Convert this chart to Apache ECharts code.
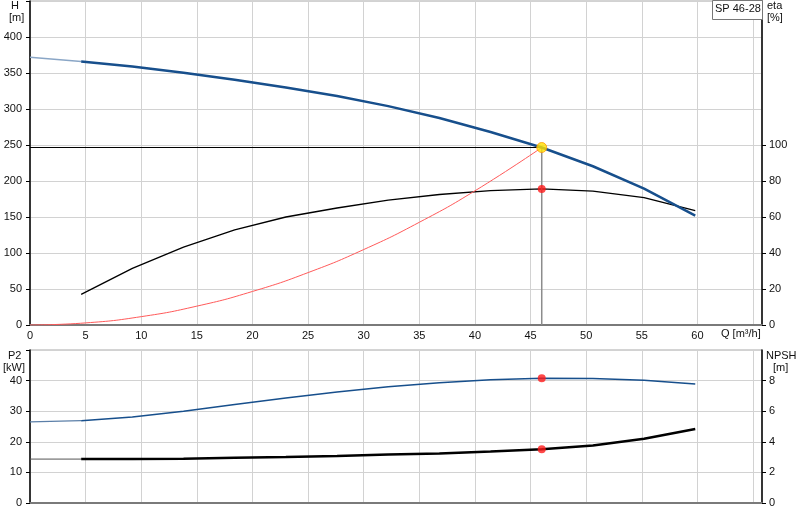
<!DOCTYPE html>
<html>
<head>
<meta charset="utf-8">
<script src="https://cdn.jsdelivr.net/npm/echarts@6.0.0/dist/echarts.min.js"></script>
<style>
  html, body { margin: 0; padding: 0; background: #fff; }
  #chart { width: 800px; height: 520px; }
</style>
</head>
<body>
<div id="chart"></div>
<script>
// flow points of the curves [m3/h]
let qPoints = [4.6, 9.2, 13.8, 18.4, 23.0, 27.6, 32.2, 36.8, 41.4, 46.0, 50.6, 55.2, 59.8];
// head [m]
let headStart = [[0, 372], [4.6, 366]];
let headVals = [366, 359, 350.5, 340.5, 330, 318, 304, 287.5, 268, 246.5, 220.5, 189.5, 152];
// efficiency [%]
let etaVals = [17.0, 31.5, 43.3, 52.8, 60.0, 65.0, 69.4, 72.5, 74.7, 75.6, 74.4, 70.8, 63.5];
// system curve
let sysQ = [0, 5, 10, 15, 20, 25, 30, 35, 40, 46];
let sysH = [0, 2.9, 11.6, 26.2, 46.6, 72.8, 104.8, 142.7, 186.4, 246.5];
// shaft power P2 [kW]
let p2Start = [[0, 26.5], [4.6, 26.9]];
let p2Vals = [26.9, 28.1, 30.0, 32.2, 34.3, 36.3, 38.0, 39.3, 40.3, 40.75, 40.7, 40.1, 38.9];
// NPSH [m]
let npshStart = [[0, 2.87], [4.6, 2.87]];
let npshVals = [2.87, 2.88, 2.89, 2.95, 3.01, 3.08, 3.17, 3.24, 3.36, 3.52, 3.76, 4.2, 4.83];
// duty point
let dutyQ = 46;
let dutyH = 246.5;
let dutyEta = 75.6;
let dutyP2 = 40.75;
let dutyNpsh = 3.52;

let pairs = function(xs, ys){
    return xs.map(function(x, i){ return [x, ys[i]]; });
};

let font = 'Liberation Sans, Arial, sans-serif';
let gridColor = '#d2d2d2';
let labelStyle = {color: '#111', fontSize: 11, fontFamily: font};

let chart = echarts.init(document.getElementById('chart'), null, {renderer: 'canvas'});

let xAxisBase = function(idx, showLabels){
    return {
        gridIndex: idx, type: 'value', min: 0, max: 65.8, interval: 5,
        axisLine: {onZero: false, lineStyle: {color: '#7a7a7a', width: 2}},
        axisTick: {show: false},
        axisLabel: Object.assign({show: showLabels, margin: 5,
            formatter: function(v){ return v > 60 ? '' : v; }}, labelStyle),
        splitLine: {show: true, lineStyle: {color: gridColor, width: 1}}
    };
};

let yAxisLeft = function(idx, max, interval){
    return {
        gridIndex: idx, type: 'value', position: 'left', min: 0, max: max, interval: interval,
        axisLine: {show: true, onZero: false, lineStyle: {color: '#000', width: 1.5}},
        axisTick: {show: true, length: 4, lineStyle: {color: '#000'}},
        axisLabel: Object.assign({margin: 8,
            formatter: function(v){ return v >= max ? '' : v; }}, labelStyle),
        splitLine: {show: true, lineStyle: {color: gridColor, width: 1}}
    };
};

let yAxisRight = function(idx, max, interval, shown){
    return {
        gridIndex: idx, type: 'value', position: 'right', min: 0, max: max, interval: interval,
        axisLine: {show: true, onZero: false, lineStyle: {color: '#000', width: 1.5}},
        axisTick: {show: true, length: 4, customValues: shown, lineStyle: {color: '#000'}},
        axisLabel: Object.assign({margin: 7, customValues: shown}, labelStyle),
        splitLine: {show: false}
    };
};

let textAt = function(x, y, str, align){
    return {type: 'text', left: x, top: y, z: 10,
        style: {text: str, fill: '#111', font: '11px ' + font, textAlign: align || 'left'}};
};

let option = {
    animation: false,
    backgroundColor: '#fff',
    textStyle: {fontFamily: font},
    grid: [
        {left: 30, right: 38, top: 1, height: 324, show: true, borderColor: '#a8a8a8', borderWidth: 1},
        {left: 30, right: 38, top: 350, height: 153, show: true, borderColor: '#a8a8a8', borderWidth: 1}
    ],
    xAxis: [xAxisBase(0, true), xAxisBase(1, false)],
    yAxis: [
        yAxisLeft(0, 450, 50),
        yAxisRight(0, 180, 20, [0, 20, 40, 60, 80, 100]),
        yAxisLeft(1, 50, 10),
        yAxisRight(1, 10, 2, [0, 2, 4, 6, 8])
    ],
    graphic: [
        textAt(11, 0, 'H'),
        textAt(9, 12, '[m]'),
        textAt(767, 0, 'eta'),
        textAt(767, 12, '[%]'),
        textAt(721, 328, 'Q [m\u00b3/h]'),
        textAt(8, 350, 'P2'),
        textAt(3, 362, '[kW]'),
        textAt(766, 350, 'NPSH'),
        textAt(773, 362, '[m]'),
        {type: 'rect', left: 712, top: 0, z: 9,
            shape: {width: 50, height: 19},
            style: {fill: '#fff', stroke: '#777', lineWidth: 1}},
        textAt(715, 3, 'SP 46-28')
    ],
    series: [
        {type: 'line', xAxisIndex: 0, yAxisIndex: 0, data: headStart, symbol: 'none',
            lineStyle: {color: '#8aa6c6', width: 1.5}},
        {type: 'line', xAxisIndex: 0, yAxisIndex: 0, data: pairs(qPoints, headVals), symbol: 'none',
            lineStyle: {color: '#174f8c', width: 2.5}, z: 4},
        {type: 'line', xAxisIndex: 0, yAxisIndex: 1, data: pairs(qPoints, etaVals), symbol: 'none',
            lineStyle: {color: '#000', width: 1.3}},
        {type: 'line', xAxisIndex: 0, yAxisIndex: 0, data: pairs(sysQ, sysH), symbol: 'none', smooth: true,
            lineStyle: {color: '#ff5a5a', width: 1}},
        {type: 'line', xAxisIndex: 0, yAxisIndex: 0, data: [[0, dutyH], [dutyQ, dutyH]], symbol: 'none',
            lineStyle: {color: '#000', width: 1.2}},
        {type: 'line', xAxisIndex: 0, yAxisIndex: 0, data: [[dutyQ, 0], [dutyQ, dutyH]], symbol: 'none',
            lineStyle: {color: '#8c8c8c', width: 1.5}},
        {type: 'scatter', xAxisIndex: 0, yAxisIndex: 0, data: [[dutyQ, dutyH]], symbolSize: 10, z: 6,
            itemStyle: {color: '#ffe100', borderColor: '#ff9a00', borderWidth: 1}},
        {type: 'scatter', xAxisIndex: 0, yAxisIndex: 1, data: [[dutyQ, dutyEta]], symbolSize: 8, z: 6,
            itemStyle: {color: '#ff1a1a'}},

        {type: 'line', xAxisIndex: 1, yAxisIndex: 2, data: p2Start, symbol: 'none',
            lineStyle: {color: '#5b7fa8', width: 1.2}},
        {type: 'line', xAxisIndex: 1, yAxisIndex: 2, data: pairs(qPoints, p2Vals), symbol: 'none',
            lineStyle: {color: '#174f8c', width: 1.5}},
        {type: 'line', xAxisIndex: 1, yAxisIndex: 3, data: npshStart, symbol: 'none',
            lineStyle: {color: '#555', width: 1}},
        {type: 'line', xAxisIndex: 1, yAxisIndex: 3, data: pairs(qPoints, npshVals), symbol: 'none',
            lineStyle: {color: '#000', width: 2.5}},
        {type: 'scatter', xAxisIndex: 1, yAxisIndex: 2, data: [[dutyQ, dutyP2]], symbolSize: 8, z: 6,
            itemStyle: {color: '#ff1a1a'}},
        {type: 'scatter', xAxisIndex: 1, yAxisIndex: 3, data: [[dutyQ, dutyNpsh]], symbolSize: 8, z: 6,
            itemStyle: {color: '#ff1a1a'}}
    ]
};

chart.setOption(option);
</script>
</body>
</html>
